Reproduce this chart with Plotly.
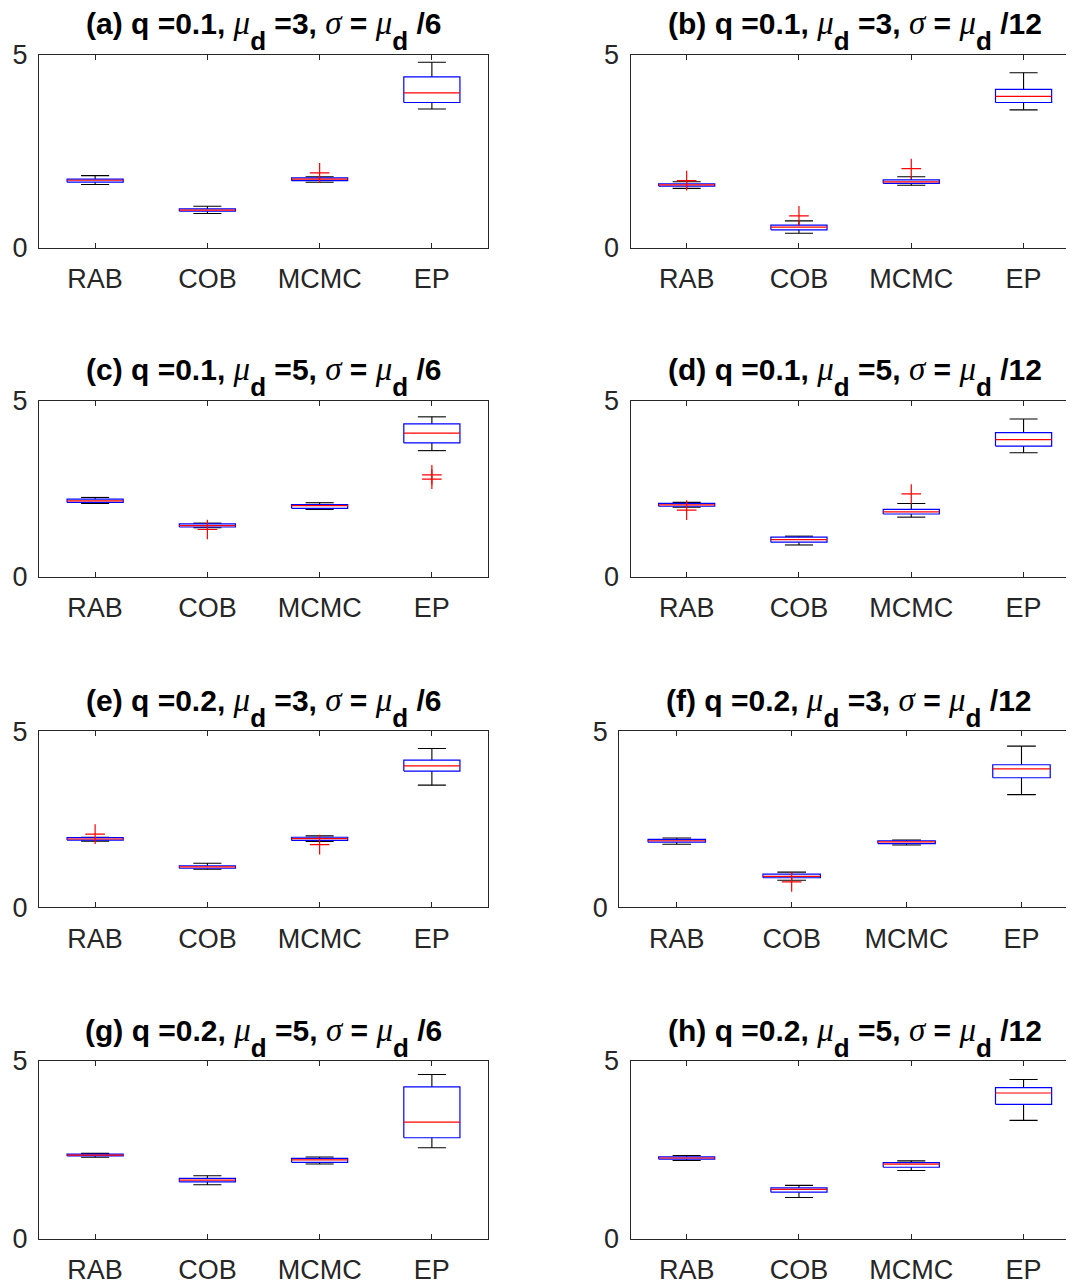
import plotly.graph_objects as go

methods = ["RAB", "COB", "MCMC", "EP"]
y_ticks = [0, 5]

titles = [
    ("a", "0.1", "3", "6"), ("b", "0.1", "3", "12"),
    ("c", "0.1", "5", "6"), ("d", "0.1", "5", "12"),
    ("e", "0.2", "3", "6"), ("f", "0.2", "3", "12"),
    ("g", "0.2", "5", "6"), ("h", "0.2", "5", "12"),
]

# Box statistics per panel, one value per method (RAB, COB, MCMC, EP)
a_low = [1.64, 0.89, 1.70, 3.59]
a_q1 = [1.70, 0.95, 1.74, 3.76]
a_med = [1.75, 0.98, 1.78, 4.01]
a_q3 = [1.78, 1.01, 1.81, 4.42]
a_high = [1.87, 1.08, 1.84, 4.80]
a_out = [[], [], [1.94], []]

b_low = [1.54, 0.38, 1.62, 3.57]
b_q1 = [1.60, 0.47, 1.67, 3.76]
b_med = [1.63, 0.54, 1.71, 3.92]
b_q3 = [1.66, 0.59, 1.76, 4.10]
b_high = [1.71, 0.70, 1.84, 4.53]
b_out = [[1.74], [0.83], [2.05], []]

c_low = [2.09, 1.40, 1.92, 3.59]
c_q1 = [2.12, 1.42, 1.95, 3.81]
c_med = [2.16, 1.46, 2.03, 4.09]
c_q3 = [2.21, 1.51, 2.06, 4.35]
c_high = [2.26, 1.53, 2.11, 4.55]
c_out = [[], [1.35], [], [2.90, 2.78]]

d_low = [1.98, 0.91, 1.70, 3.53]
d_q1 = [2.01, 0.99, 1.79, 3.72]
d_med = [2.05, 1.06, 1.85, 3.90]
d_q3 = [2.09, 1.13, 1.92, 4.10]
d_high = [2.12, 1.16, 2.09, 4.49]
d_out = [[1.90], [], [2.36], []]

e_low = [1.88, 1.08, 1.87, 3.47]
e_q1 = [1.91, 1.11, 1.90, 3.87]
e_med = [1.94, 1.15, 1.95, 4.02]
e_q3 = [1.98, 1.18, 1.99, 4.18]
e_high = [1.99, 1.25, 2.03, 4.51]
e_out = [[2.08], [], [1.78], []]

f_low = [1.79, 0.77, 1.77, 3.20]
f_q1 = [1.85, 0.84, 1.81, 3.68]
f_med = [1.89, 0.88, 1.86, 3.93]
f_q3 = [1.93, 0.94, 1.89, 4.05]
f_high = [1.97, 1.00, 1.91, 4.58]
f_out = [[], [0.72], [], []]

g_low = [2.29, 1.52, 2.10, 2.56]
g_q1 = [2.33, 1.60, 2.15, 2.84]
g_med = [2.35, 1.65, 2.22, 3.28]
g_q3 = [2.38, 1.70, 2.26, 4.27]
g_high = [2.40, 1.77, 2.30, 4.62]
g_out = [[], [], [], []]

h_low = [2.20, 1.16, 1.92, 3.33]
h_q1 = [2.24, 1.31, 2.01, 3.78]
h_med = [2.27, 1.39, 2.10, 4.10]
h_q3 = [2.30, 1.43, 2.14, 4.25]
h_high = [2.34, 1.50, 2.19, 4.48]
h_out = [[], [], [], []]

panels = [
    (a_low, a_q1, a_med, a_q3, a_high, a_out),
    (b_low, b_q1, b_med, b_q3, b_high, b_out),
    (c_low, c_q1, c_med, c_q3, c_high, c_out),
    (d_low, d_q1, d_med, d_q3, d_high, d_out),
    (e_low, e_q1, e_med, e_q3, e_high, e_out),
    (f_low, f_q1, f_med, f_q3, f_high, f_out),
    (g_low, g_q1, g_med, g_q3, g_high, g_out),
    (h_low, h_q1, h_med, h_q3, h_high, h_out),
]

# page body adds an 8px margin; size the figure so it ends at the window edge
OFF = 8
SCREEN_W, SCREEN_H = 1074, 1282
W, H = SCREEN_W - OFF, SCREEN_H - OFF
rows_px = [(54.5, 248.0), (401.0, 577.0), (731.3, 907.3), (1061.0, 1238.7)]
left_col = (39.0, 488.0, 4.5, 0.5)
right_col = (630.5, 1074.0, 4.449, 0.506)
right_col_f = (619.3, 1074.0, 4.457, 0.505)


def px_x(v):
    return (v - OFF) / W


def px_y(v):
    return 1 - (v - OFF) / H


AX = "#262626"
BOXW = 0.25
CAPW = 0.125
FONT = "Liberation Sans, Arial, Helvetica"

fig = go.Figure()
annotations = []
for k, (stats, t) in enumerate(zip(panels, titles)):
    row, col = divmod(k, 2)
    top, bot = rows_px[row]
    if col == 0:
        xl, xr, xend, tx = left_col
    elif k == 5:
        xl, xr, xend, tx = right_col_f
    else:
        xl, xr, xend, tx = right_col
    n = k + 1
    xa = "x" if n == 1 else f"x{n}"
    ya = "y" if n == 1 else f"y{n}"
    low, q1, med, q3, high, outs = stats
    for i in range(len(methods)):
        xc = i + 1
        fig.add_trace(go.Scatter(
            x=[xc, xc, None, xc, xc, None, xc - CAPW, xc + CAPW, None, xc - CAPW, xc + CAPW],
            y=[q3[i], high[i], None, q1[i], low[i], None, high[i], high[i], None, low[i], low[i]],
            mode="lines", line=dict(color="black", width=1.1),
            xaxis=xa, yaxis=ya, showlegend=False, hoverinfo="skip"))
        fig.add_trace(go.Scatter(
            x=[xc - BOXW, xc + BOXW, xc + BOXW, xc - BOXW, xc - BOXW],
            y=[q1[i], q1[i], q3[i], q3[i], q1[i]],
            mode="lines", line=dict(color="#0000FF", width=1.2),
            xaxis=xa, yaxis=ya, showlegend=False, hoverinfo="skip"))
        fig.add_trace(go.Scatter(
            x=[xc - BOXW, xc + BOXW], y=[med[i], med[i]],
            mode="lines", line=dict(color="#FF0000", width=1.2),
            xaxis=xa, yaxis=ya, showlegend=False, hoverinfo="skip"))
        if outs[i]:
            fig.add_trace(go.Scatter(
                x=[xc] * len(outs[i]), y=outs[i], mode="markers",
                marker=dict(symbol="cross-thin", size=14, line=dict(color="#FF0000", width=1.2)),
                xaxis=xa, yaxis=ya, showlegend=False, hoverinfo="skip"))

    dom_x = [px_x(xl), min(1.0, px_x(xr))]
    dom_y = [px_y(bot), px_y(top)]
    fig.layout[f"xaxis{'' if n == 1 else n}"] = dict(
        domain=dom_x, anchor=ya, range=[0.5, xend], automargin=False,
        tickvals=list(range(1, len(methods) + 1)), ticktext=methods,
        showline=True, linecolor=AX, linewidth=1, mirror="ticks",
        ticks="inside", ticklen=5, tickcolor=AX, tickwidth=1,
        showgrid=False, zeroline=False, ticklabelstandoff=7,
        tickfont=dict(family=FONT, size=27, color=AX))
    fig.layout[f"yaxis{'' if n == 1 else n}"] = dict(
        domain=dom_y, anchor=xa, range=[0, 5], tickvals=y_ticks, automargin=False,
        showline=True, linecolor=AX, linewidth=1,
        mirror="ticks" if col == 0 else False,
        ticks="inside", ticklen=5, tickcolor=AX, tickwidth=1,
        showgrid=False, zeroline=False, ticklabelstandoff=5,
        tickfont=dict(family=FONT, size=27, color=AX))

    letter, q, mu, div = t
    greek = "font-family:'Liberation Serif';font-weight:normal;font-size:33px"
    sub = ("<sub><sub><sub><sub><span style=\"font-size:26px\">d</span>"
           "</sub></sub></sub></sub>")
    txt = (f"<b>({letter}) q ={q}, </b><span style=\"{greek}\"><i>μ</i></span>"
           f"<b>{sub} ={mu}, </b>"
           f"<span style=\"{greek}\"><i>σ</i></span><b> = </b>"
           f"<span style=\"{greek}\"><i>μ</i></span>"
           f"<b>{sub} /{div}</b>")
    annotations.append(dict(
        text=txt, xref=f"{xa} domain", x=tx, yref="paper", y=px_y(top - 24),
        xanchor="center", yanchor="middle", showarrow=False,
        font=dict(family=FONT, size=30, color="black")))

fig.update_layout(
    width=W, height=H, margin=dict(l=0, r=0, t=0, b=0),
    paper_bgcolor="white", plot_bgcolor="white",
    annotations=annotations)

fig.write_html("out.html")
